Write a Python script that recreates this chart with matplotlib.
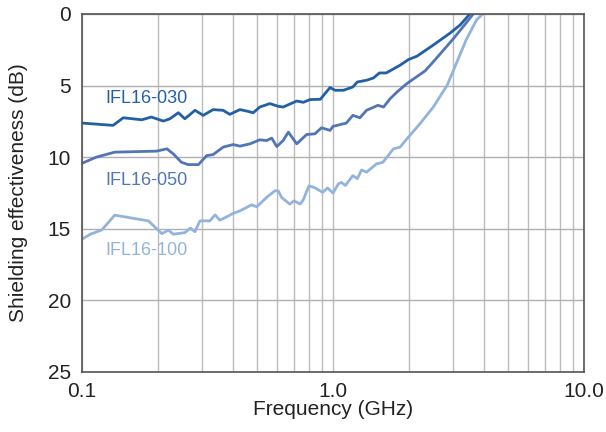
import matplotlib
matplotlib.use("Agg")
import matplotlib.pyplot as plt
from matplotlib.ticker import FixedLocator, NullFormatter

plt.rcParams['font.family'] = ['Liberation Sans', 'DejaVu Sans']

# IFL16-030
f_030 = [0.1, 0.133, 0.146, 0.173, 0.189, 0.211, 0.224, 0.242, 0.257, 0.282, 0.304,
         0.333, 0.365, 0.388, 0.426, 0.453, 0.481, 0.511, 0.56, 0.606, 0.633, 0.717,
         0.762, 0.809, 0.89, 0.973, 1.02, 1.10, 1.20, 1.25, 1.36, 1.45, 1.53, 1.63,
         1.85, 2.0, 2.16, 2.51, 2.92, 3.21, 3.51]
se_030 = [7.62, 7.78, 7.25, 7.39, 7.2, 7.48, 7.32, 6.9, 7.32, 6.73, 7.08,
          6.68, 6.73, 7.01, 6.68, 6.78, 6.9, 6.5, 6.26, 6.45, 6.5, 6.08,
          6.17, 5.98, 5.96, 5.14, 5.33, 5.33, 5.1, 4.75, 4.63, 4.47, 4.12, 4.12,
          3.58, 3.18, 2.95, 2.17, 1.35, 0.77, 0.0]

# IFL16-050
f_050 = [0.1, 0.114, 0.135, 0.198, 0.218, 0.231, 0.249, 0.265, 0.291, 0.314, 0.333,
         0.365, 0.4, 0.426, 0.467, 0.511, 0.544, 0.57, 0.597, 0.633, 0.664, 0.717,
         0.785, 0.847, 0.9, 0.973, 1.0, 1.13, 1.20, 1.28, 1.36, 1.51, 1.59, 1.69,
         1.80, 1.97, 2.33, 2.51, 3.0, 3.3, 3.62]
se_050 = [10.43, 10.0, 9.65, 9.58, 9.42, 9.77, 10.36, 10.52, 10.52, 9.89, 9.82,
          9.3, 9.12, 9.23, 9.07, 8.79, 8.84, 8.67, 9.26, 8.84, 8.25, 9.07,
          8.42, 8.37, 7.95, 8.13, 7.85, 7.62, 7.08, 7.25, 6.73, 6.38, 6.5, 5.91,
          5.45, 4.86, 3.97, 3.34, 1.78, 0.89, 0.0]

# IFL16-100
f_100 = [0.1, 0.108, 0.12, 0.135, 0.184, 0.208, 0.221, 0.231, 0.257, 0.27, 0.282,
         0.295, 0.323, 0.339, 0.354, 0.377, 0.4, 0.426, 0.474, 0.497, 0.544, 0.588,
         0.606, 0.624, 0.672, 0.70, 0.74, 0.76, 0.802, 0.85, 0.91, 0.95, 1.0, 1.05,
         1.08, 1.12, 1.20, 1.25, 1.30, 1.36, 1.49, 1.58, 1.66, 1.74, 1.85, 1.97,
         2.22, 2.51, 2.85, 3.1, 3.39, 3.73, 3.95]
se_100 = [15.73, 15.38, 15.08, 14.05, 14.45, 15.34, 15.1, 15.38, 15.27, 14.96, 15.2,
          14.45, 14.45, 14.03, 14.4, 14.17, 13.93, 13.75, 13.33, 13.47, 12.81, 12.34,
          12.37, 12.81, 13.28, 13.05, 13.28, 13.0, 12.0, 12.15, 12.46, 12.15, 12.5, 11.87,
          11.76, 11.98, 11.29, 11.5, 10.89, 11.05, 10.47, 10.36, 9.89, 9.42, 9.3, 8.72,
          7.67, 6.5, 4.98, 3.46, 1.82, 0.42, 0.0]

names = ["IFL16-030", "IFL16-050", "IFL16-100"]
colors = ["#2260a6", "#5275b6", "#92b4dc"]

fig = plt.figure(figsize=(6.06, 4.32), dpi=100)
ax = fig.add_axes([0.1353, 0.139, 0.8284, 0.8287])

ax.plot(f_030, se_030, color=colors[0], linewidth=2.0)
ax.plot(f_050, se_050, color=colors[1], linewidth=2.0)
ax.plot(f_100, se_100, color=colors[2], linewidth=2.0)

ax.set_xscale("log")
ax.set_xlim(0.1, 10)
ax.set_ylim(25, 0)

ax.xaxis.set_major_locator(FixedLocator([0.1, 1.0, 10.0]))
ax.set_xticklabels(["0.1", "1.0", "10.0"])
minor = [m * 0.1 for m in range(2, 10)] + [m * 1.0 for m in range(2, 10)]
ax.xaxis.set_minor_locator(FixedLocator(minor))
ax.xaxis.set_minor_formatter(NullFormatter())
ax.set_yticks([0, 5, 10, 15, 20, 25])

ax.grid(True, which="both", axis="x", color="#bcbcbc", linewidth=1.0)
ax.grid(True, which="major", axis="y", color="#b0b0b0", linewidth=1.0)
ax.tick_params(which="both", length=0, labelsize=15, colors="#222222")
ax.tick_params(axis="x", pad=7)
ax.tick_params(axis="y", pad=8)
for s in ax.spines.values():
    s.set_color("#555555")
    s.set_linewidth(1.2)

ax.set_xlabel("Frequency (GHz)", fontsize=15, color="#222222")
ax.set_ylabel("Shielding effectiveness (dB)", fontsize=15, color="#222222")
ax.xaxis.set_label_coords(0.5, -0.079)
ax.yaxis.set_label_coords(-0.108, 0.5)

ax.text(0.124, 5.9, names[0], color=colors[0], fontsize=13, va="center")
ax.text(0.124, 11.65, names[1], color=colors[1], fontsize=13, va="center")
ax.text(0.124, 16.55, names[2], color=colors[2], fontsize=13, va="center")

fig.savefig("out.png", dpi=100)
